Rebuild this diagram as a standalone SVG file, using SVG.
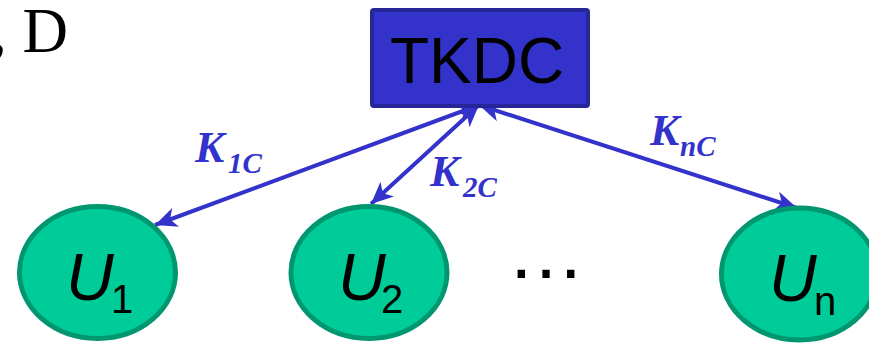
<svg xmlns="http://www.w3.org/2000/svg" width="869" height="343" viewBox="0 0 869 343">
<style>
.user{fill:#00CC99;stroke:#009670;stroke-width:5}
.ulab{font-family:"Liberation Sans",Arial,sans-serif;fill:#000}
.klab{font-family:"Liberation Serif","Times New Roman",serif;font-weight:bold;font-style:italic;fill:#3333CC}
.conn{stroke:#3333CC;stroke-width:4;fill:none;marker-start:url(#ah);marker-end:url(#ah)}
</style>
<defs>
<marker id="ah" markerUnits="userSpaceOnUse" markerWidth="30" markerHeight="24" viewBox="-2 -12 30 24" refX="22" refY="0" orient="auto-start-reverse">
<path d="M0,-10 L22,0 L0,10 L6,0 Z" fill="#3333CC"/>
</marker>
</defs>
<text x="-9" y="52" font-family="Liberation Serif,'Times New Roman',serif" font-size="63" fill="#000">, D</text>
<g id="connectors">
<line class="conn" x1="479" y1="105" x2="155" y2="225"/>
<line class="conn" x1="479" y1="105" x2="371" y2="204"/>
<line class="conn" x1="479" y1="105" x2="797" y2="208"/>
</g>
<g id="TKDC">
<rect x="372" y="10" width="216" height="96" rx="2" fill="#3333CC" stroke="#262699" stroke-width="4"/>
<text x="477" y="83" text-anchor="middle" class="ulab" font-size="64">TKDC</text>
</g>
<g id="U1">
<ellipse class="user" cx="97.5" cy="272.5" rx="78" ry="66"/>
<text class="ulab" y="300"><tspan x="66" font-style="italic" font-size="66">U</tspan><tspan x="111" y="313" font-size="40">1</tspan></text>
</g>
<g id="U2">
<ellipse class="user" cx="369" cy="272.5" rx="78" ry="66"/>
<text class="ulab" y="300"><tspan x="338" font-style="italic" font-size="66">U</tspan><tspan x="381" y="313" font-size="40">2</tspan></text>
</g>
<g id="Un">
<ellipse class="user" cx="799.5" cy="274" rx="78" ry="66"/>
<text class="ulab" y="301"><tspan x="769" font-style="italic" font-size="66">U</tspan><tspan x="814" y="315" font-size="40">n</tspan></text>
</g>
<text class="ulab" x="546" y="278" text-anchor="middle" font-size="78">…</text>
<g id="labels">
<text class="klab" y="162"><tspan x="195" font-size="44">K</tspan><tspan x="228" y="173" font-size="29">1C</tspan></text>
<text class="klab" y="186"><tspan x="430" font-size="44">K</tspan><tspan x="463" y="197" font-size="29">2C</tspan></text>
<text class="klab" y="145"><tspan x="650" font-size="44">K</tspan><tspan x="680" y="156" font-size="29">nC</tspan></text>
</g>
</svg>
